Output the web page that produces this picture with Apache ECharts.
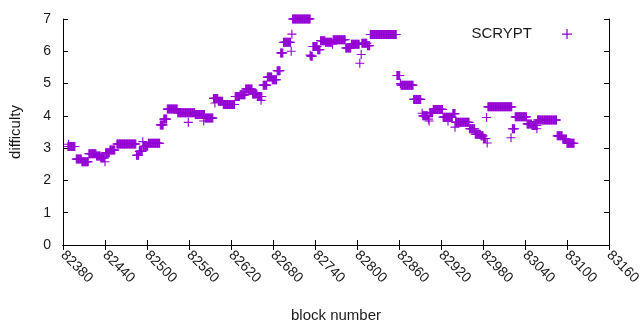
<!DOCTYPE html>
<html>
<head>
<meta charset="utf-8">
<script src="https://cdn.jsdelivr.net/npm/echarts@6/dist/echarts.min.js"></script>
<style>
  html, body { margin: 0; padding: 0; background: #fff; }
  #main { width: 640px; height: 330px; }
</style>
</head>
<body>
<div id="main"></div>
<script>
// runs of blocks sharing one difficulty value
var runStart = [82387, 82388, 82399, 82407, 82417, 82428, 82434, 82440, 82441, 82447,
  82457, 82485, 82489, 82494, 82495, 82502, 82519, 82524, 82529, 82544,
  82559, 82569, 82581, 82583, 82595, 82597, 82602, 82609, 82626, 82633,
  82641, 82651, 82658, 82663, 82666, 82672, 82679, 82686, 82691, 82695,
  82706, 82707, 82708, 82733, 82734, 82737, 82744, 82748, 82755, 82765,
  82766, 82784, 82792, 82804, 82806, 82807, 82815, 82819, 82857, 82862,
  82863, 82881, 82893, 82894, 82902, 82903, 82904, 82909, 82923, 82930,
  82937, 82940, 82941, 82961, 82969, 82977, 82981, 82985, 82986, 82987,
  83020, 83022, 83026, 83043, 83050, 83057, 83058, 83086, 83094, 83100];
var runEnd = [82397, 82388, 82406, 82416, 82427, 82433, 82439, 82440, 82446, 82454,
  82484, 82488, 82493, 82494, 82501, 82518, 82523, 82528, 82543, 82568,
  82559, 82582, 82581, 82594, 82601, 82597, 82608, 82625, 82632, 82640,
  82650, 82657, 82664, 82663, 82671, 82678, 82685, 82690, 82694, 82705,
  82706, 82707, 82733, 82733, 82736, 82743, 82747, 82754, 82764, 82765,
  82783, 82791, 82803, 82804, 82806, 82814, 82818, 82856, 82861, 82862,
  82880, 82891, 82893, 82901, 82902, 82903, 82908, 82922, 82936, 82930,
  82940, 82940, 82960, 82968, 82976, 82980, 82984, 82985, 82986, 83021,
  83020, 83025, 83042, 83049, 83057, 83057, 83085, 83093, 83099, 83110];
var runValue = [3.05, 3.12, 2.66, 2.58, 2.83, 2.76, 2.70, 2.58, 2.86, 2.94,
  3.13, 2.78, 2.90, 3.20, 3.06, 3.15, 3.72, 3.90, 4.21, 4.10,
  3.80, 4.04, 3.84, 3.93, 4.54, 4.40, 4.45, 4.35, 4.60, 4.65,
  4.83, 4.68, 4.60, 4.48, 4.95, 5.20, 5.12, 5.40, 5.95, 6.28,
  6.00, 6.53, 7.00, 5.88, 5.85, 6.15, 6.05, 6.33, 6.28, 6.22,
  6.36, 6.10, 6.22, 5.63, 5.90, 6.25, 6.17, 6.52, 5.25, 5.00,
  4.95, 4.51, 4.08, 4.00, 3.90, 3.84, 4.10, 4.20, 3.96, 3.84,
  4.07, 3.65, 3.80, 3.60, 3.43, 3.38, 3.30, 3.95, 3.16, 4.28,
  3.32, 3.60, 3.97, 3.75, 3.70, 3.60, 3.87, 3.38, 3.28, 3.15];

var xTicks = { min: 82380, max: 83160, interval: 60 };
var yTicks = { min: 0, max: 7, interval: 1 };

var points = [];
for (var i = 0; i < runStart.length; i++) {
  for (var b = runStart[i]; b <= runEnd[i]; b++) {
    points.push([b, runValue[i]]);
  }
}

var plus = 'path://M3.5,0H4.5V3.5H8V4.5H4.5V8H3.5V4.5H0V3.5H3.5Z';
var purple = '#9400d3';
var txt = '#1a1a1a';
var fontName = 'Liberation Sans';

var option = {
  animation: false,
  backgroundColor: '#fff',
  grid: { left: 63, right: 31, top: 19, bottom: 85, containLabel: false, outerBoundsMode: 'none' },
  legend: {
    data: ['SCRYPT'],
    right: 63,
    top: 21.5,
    align: 'right',
    icon: plus,
    itemWidth: 60,
    itemHeight: 10,
    itemStyle: { color: purple },
    textStyle: { color: txt, fontSize: 15, fontFamily: fontName }
  },
  xAxis: [{
    type: 'value',
    min: xTicks.min,
    max: xTicks.max,
    interval: xTicks.interval,
    name: 'block number',
    nameLocation: 'middle',
    nameGap: 63,
    nameTextStyle: { color: txt, fontSize: 15, fontFamily: fontName },
    axisLine: { show: true, lineStyle: { color: '#000', width: 1 } },
    axisTick: { inside: true, length: 5, lineStyle: { color: '#000' } },
    axisLabel: {
      rotate: -45, color: txt, fontSize: 14, fontFamily: fontName, margin: 8,
      formatter: function (v) { return String(v); }
    },
    splitLine: { show: false }
  }, {
    type: 'value',
    position: 'top',
    min: xTicks.min,
    max: xTicks.max,
    interval: xTicks.interval,
    axisLine: { show: true, lineStyle: { color: '#000', width: 1 } },
    axisTick: { inside: true, length: 5, lineStyle: { color: '#000' } },
    axisLabel: { show: false },
    splitLine: { show: false }
  }],
  yAxis: [{
    type: 'value',
    min: yTicks.min,
    max: yTicks.max,
    interval: yTicks.interval,
    name: 'difficulty',
    nameLocation: 'middle',
    nameGap: 40,
    nameTextStyle: { color: txt, fontSize: 15, fontFamily: fontName },
    axisLine: { show: true, lineStyle: { color: '#000', width: 1 } },
    axisTick: { inside: true, length: 5, lineStyle: { color: '#000' } },
    axisLabel: { color: txt, fontSize: 14, fontFamily: fontName, margin: 12 },
    splitLine: { show: false }
  }, {
    type: 'value',
    position: 'right',
    min: yTicks.min,
    max: yTicks.max,
    interval: yTicks.interval,
    axisLine: { show: true, lineStyle: { color: '#000', width: 1 } },
    axisTick: { inside: true, length: 5, lineStyle: { color: '#000' } },
    axisLabel: { show: false },
    splitLine: { show: false }
  }],
  series: [{
    name: 'SCRYPT',
    type: 'scatter',
    data: points,
    symbol: plus,
    symbolSize: 9,
    clip: false,
    itemStyle: { color: purple, opacity: 1 }
  }]
};

var chart = echarts.init(document.getElementById('main'));
chart.setOption(option);
</script>
</body>
</html>
